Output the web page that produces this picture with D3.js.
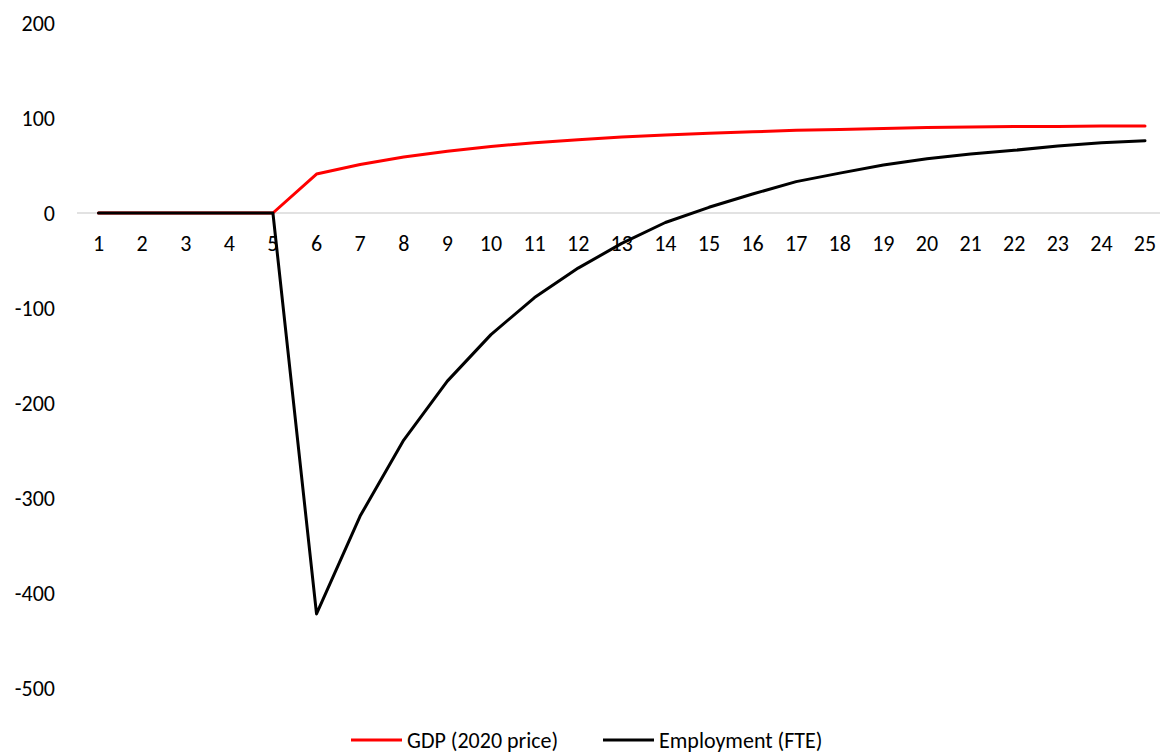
<!DOCTYPE html>
<html><head><meta charset="utf-8">
<script src="https://cdn.jsdelivr.net/npm/d3@7"></script>
<style>body{margin:0;background:#fff}svg{display:block}text{font-family:Calibri,Carlito,Lato,"Liberation Sans",sans-serif;fill:#000}</style>
</head><body><svg id="c" width="1160" height="756"></svg>
<script>
const categories = d3.range(1, 26).map(String);
const gdp = [0,0,0,0,0,41,51,59,65,70,74,77,80,82,84,85.5,87,88,89,90,90.5,91,91,91.5,91.5];
const employment = [0,0,0,0,0,-422,-319,-239,-177,-128,-89,-58,-32,-10,6,20,33,42,50.5,57,62,66,70.5,74,76];
const yTicks = [200,100,0,-100,-200,-300,-400,-500];
const seriesNames = ["GDP (2020 price)", "Employment (FTE)"];
const colors = ["#ff0000", "#000000"];

const svg = d3.select("#c");
const x = d3.scalePoint().domain(categories).range([98.5, 1145]);
const y = d3.scaleLinear().domain([-500, 200]).range([688, 23]);

svg.append("g").selectAll("text").data(yTicks).join("text")
  .attr("x", 55).attr("y", d => y(d)).attr("dy", "0.35em")
  .attr("text-anchor", "end").attr("font-size", 22).text(d => d);

svg.append("line").attr("x1", 77).attr("x2", 1160).attr("y1", y(0)).attr("y2", y(0))
  .attr("stroke", "#d9d9d9").attr("stroke-width", 1.5);

svg.append("g").selectAll("text").data(categories).join("text")
  .attr("x", d => x(d)).attr("y", y(0) + 38).attr("text-anchor", "middle")
  .attr("font-size", 22).text(d => d);

const line = d3.line().x((d, i) => x(categories[i])).y(d => y(d));
[gdp, employment].forEach((s, k) => {
  svg.append("path").datum(s).attr("d", line).attr("fill", "none")
    .attr("stroke", colors[k]).attr("stroke-width", 3).attr("stroke-linejoin", "round").attr("stroke-linecap", "round");
});

const legX = [351, 603];
seriesNames.forEach((n, k) => {
  svg.append("line").attr("x1", legX[k]).attr("x2", legX[k] + 51).attr("y1", 740).attr("y2", 740)
    .attr("stroke", colors[k]).attr("stroke-width", 3);
  svg.append("text").attr("x", legX[k] + 56).attr("y", 740).attr("dy", "0.35em")
    .attr("font-size", 22).text(n);
});
</script></body></html>
